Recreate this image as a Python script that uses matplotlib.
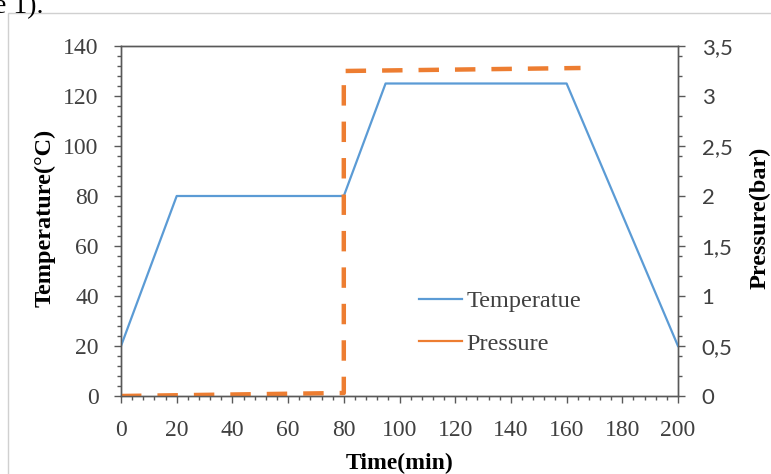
import matplotlib
matplotlib.use("Agg")
import matplotlib.pyplot as plt
from matplotlib.ticker import MultipleLocator, FuncFormatter
from matplotlib.lines import Line2D
from matplotlib.patches import Rectangle

# Data
temp_time = [0, 20, 80, 95, 160, 200]
temp_vals = [20, 80, 80, 125, 125, 20]
pres_time = [0, 80, 80, 165]
pres_vals = [0.0, 0.03, 3.25, 3.28]
x_ticks = list(range(0, 201, 20))
left_ticks = list(range(0, 141, 20))
right_ticks = [0, 0.5, 1, 1.5, 2, 2.5, 3, 3.5]

blue = "#5B9BD5"
orange = "#ED7D31"
serif = "Liberation Serif"
sans = "Lato"
tick_col = "#404040"
spine_col = "#595959"

fig = plt.figure(figsize=(7.71, 4.74), dpi=100)
fig.patches.append(Rectangle((8/771, -0.05), 1.0, 1 - 13/474 + 0.05,
                             transform=fig.transFigure, fill=False,
                             edgecolor="#D0D0D0", linewidth=1.0))
fig.text(-0.008, 1.012, "e 1).", fontfamily=serif, fontsize=20, va="top", ha="left")

ax = fig.add_axes([121/771, 1 - 396/474, (678-121)/771, (396-46)/474])
ax2 = ax.twinx()

ax.plot(temp_time, temp_vals, color=blue, lw=1.6, zorder=3)
ax2.plot(pres_time, pres_vals, color=orange, lw=3.2, ls=(0, (4.6, 3.6)),
         solid_capstyle="butt", dash_capstyle="butt", zorder=2)

ax.set_xlim(0, 200)
ax.set_ylim(0, 140)
ax2.set_ylim(0, 3.5)
ax.set_xticks(x_ticks)
ax.set_yticks(left_ticks)
ax2.set_yticks(right_ticks)
ax.xaxis.set_minor_locator(MultipleLocator(4))
ax.yaxis.set_minor_locator(MultipleLocator(4))
ax2.yaxis.set_minor_locator(MultipleLocator(0.2))
ax2.yaxis.set_major_formatter(FuncFormatter(lambda v, p: ("%g" % v).replace(".", ",")))

for a in (ax, ax2):
    for s in a.spines.values():
        s.set_color(spine_col)
        s.set_linewidth(1.0)

ax.tick_params(axis="x", which="major", direction="out", length=5, width=1,
               color=spine_col, labelcolor=tick_col, labelsize=17, pad=12)
ax.tick_params(axis="y", which="major", direction="out", length=5, width=1,
               color=spine_col, labelcolor=tick_col, labelsize=17, pad=11)
ax.tick_params(axis="both", which="minor", direction="out", length=3, width=1,
               color=spine_col)
ax2.tick_params(axis="y", which="major", direction="out", length=5, width=1,
                color=spine_col, labelcolor=tick_col, labelsize=16, pad=12)
ax2.tick_params(axis="y", which="minor", direction="out", length=3, width=1,
                color=spine_col)
for lab in ax.get_xticklabels() + ax.get_yticklabels():
    lab.set_fontfamily(serif)
for lab in ax2.get_yticklabels():
    lab.set_fontfamily(sans)

fig.text(45/771, 1 - 218/474, "Temperature(°C)", rotation=90, fontfamily=serif,
         fontweight="bold", fontsize=17.5, ha="center", va="center")
fig.text(760/771, 1 - 218/474, "Pressure(bar)", rotation=90, fontfamily=serif,
         fontweight="bold", fontsize=17.5, ha="center", va="center")
fig.text(400/771, 1 - 463/474, "Time(min)", fontfamily=serif,
         fontweight="bold", fontsize=17, ha="center", va="center")

handles = [Line2D([], [], color=blue, lw=1.6), Line2D([], [], color=orange, lw=1.6)]
leg = ax.legend(handles, ["Temperatue", "Pressure"], loc="upper left",
                bbox_to_anchor=((419-121)/557, (396-290)/350), frameon=False,
                prop={"family": serif, "size": 17.5}, handlelength=1.75,
                handletextpad=0.2, labelspacing=0.85, borderaxespad=0, borderpad=0)
for t in leg.get_texts():
    t.set_color(tick_col)

fig.savefig("out.png", dpi=100)
